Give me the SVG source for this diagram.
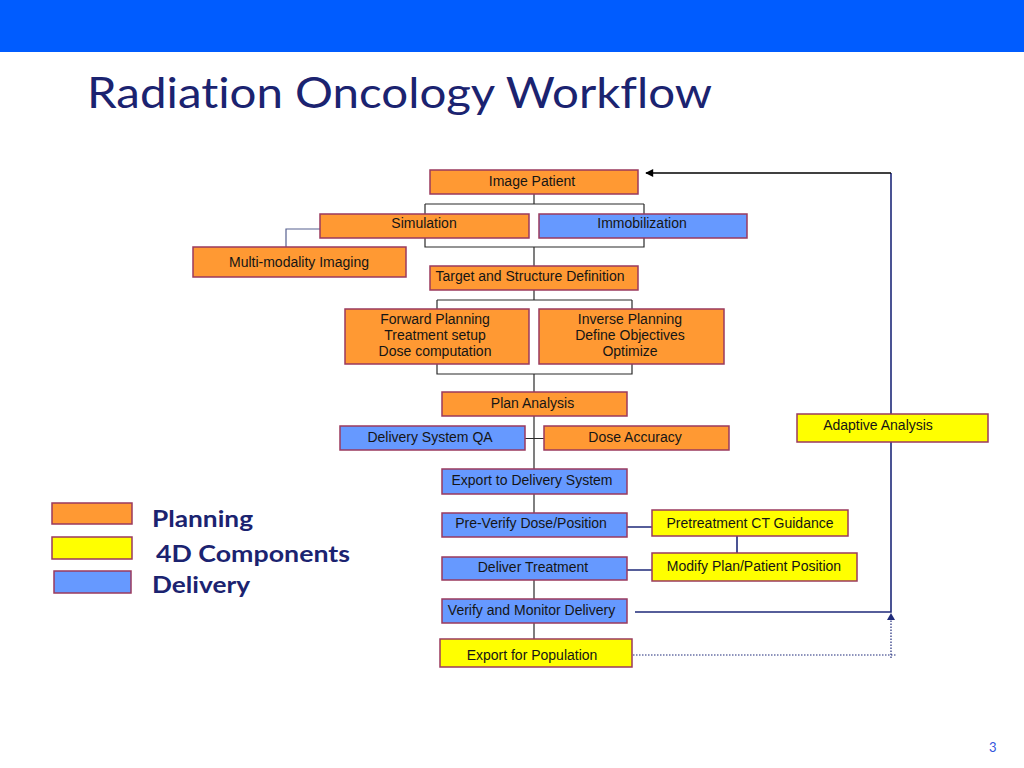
<svg xmlns="http://www.w3.org/2000/svg" width="1024" height="768" viewBox="0 0 1024 768">
<defs>
<style>
.box{stroke:#9a3a5e;stroke-width:1.5}
.org{fill:#ff9933}
.blu{fill:#6699ff}
.yel{fill:#ffff00}
.t{font-family:"Liberation Sans",Arial,sans-serif;font-size:14px;fill:#151515;text-anchor:middle}
.tree{fill:none;stroke:#2a2a2a;stroke-width:1.2}
.navy{fill:none;stroke:#1f2a7a;stroke-width:1.6}
.leg{font-family:Lato,"Open Sans",sans-serif;font-weight:bold;font-size:23px;fill:#1b2370}
.ttl{font-family:Lato,"Open Sans",sans-serif;font-size:42px;fill:#1b2370;font-variant-ligatures:none}
</style>
<marker id="ah" viewBox="0 0 10 10" refX="9" refY="5" markerWidth="9" markerHeight="8" markerUnits="userSpaceOnUse" orient="auto">
<path d="M0,0 L10,5 L0,10 z" fill="#000"/>
</marker>
</defs>
<rect x="0" y="0" width="1024" height="52" fill="#005cff"/>
<text class="ttl" x="87" y="108" textLength="625" lengthAdjust="spacingAndGlyphs">Radiation Oncology Workflow</text>

<g id="connectors">
<path class="tree" d="M534,194 V204 M425,204 H644 M425,204 V214 M644,204 V214"/>
<path class="tree" d="M425,238 V247 H644 V238 M534,247 V266"/>
<path fill="none" stroke="#56608f" stroke-width="1.2" d="M320,229 H286 V247"/>
<path class="tree" d="M534,290 V300 M437,300 H632 M437,300 V309 M632,300 V309"/>
<path class="tree" d="M437,364 V374 H632 V364 M534,374 V392"/>
<path class="tree" d="M534,416 V469 M525,438.5 H544"/>
<path class="tree" d="M534,494 V513"/>
<path class="tree" d="M534,580 V599 M534,623 V639"/>
<path class="navy" d="M627,527 H652 M627,570 H652 M737,536 V553"/>
<path class="navy" d="M635,612 H891 V173"/>
<path fill="none" stroke="#000" stroke-width="1.5" d="M891,173 H646" marker-end="url(#ah)"/>
<path fill="none" stroke="#1f2a7a" stroke-width="1.2" stroke-dasharray="1.5,1.5" d="M633,655 H897 M891,658 V620"/>
<path d="M891,613 L887,620 L895,620 z" fill="#1f2a7a"/>
</g>

<g id="image-patient"><rect class="box org" x="430" y="170" width="208" height="24"/><text class="t" x="532" y="186">Image Patient</text></g>
<g id="simulation"><rect class="box org" x="320" y="214" width="209" height="24"/><text class="t" x="424" y="228">Simulation</text></g>
<g id="immobilization"><rect class="box blu" x="539" y="214" width="208" height="24"/><text class="t" x="642" y="228">Immobilization</text></g>
<g id="multi-modality"><rect class="box org" x="193" y="247" width="213" height="30"/><text class="t" x="299" y="267">Multi-modality Imaging</text></g>
<g id="target"><rect class="box org" x="430" y="266" width="208" height="24"/><text class="t" x="530" y="281">Target and Structure Definition</text></g>
<g id="forward-planning"><rect class="box org" x="345" y="309" width="184" height="55"/>
<text class="t" x="435" y="324">Forward Planning</text><text class="t" x="435" y="340">Treatment setup</text><text class="t" x="435" y="355.5">Dose computation</text></g>
<g id="inverse-planning"><rect class="box org" x="539" y="309" width="185" height="55"/>
<text class="t" x="630" y="324">Inverse Planning</text><text class="t" x="630" y="340">Define Objectives</text><text class="t" x="630" y="355.5">Optimize</text></g>
<g id="plan-analysis"><rect class="box org" x="442" y="392" width="185" height="24"/><text class="t" x="532.5" y="407.5">Plan Analysis</text></g>
<g id="delivery-qa"><rect class="box blu" x="340" y="426" width="185" height="24"/><text class="t" x="430" y="442">Delivery System QA</text></g>
<g id="dose-accuracy"><rect class="box org" x="544" y="426" width="185" height="24"/><text class="t" x="635" y="442">Dose Accuracy</text></g>
<g id="adaptive-analysis"><rect class="box yel" x="797" y="414" width="191" height="28"/><text class="t" x="878" y="430">Adaptive Analysis</text></g>
<g id="export-delivery"><rect class="box blu" x="442" y="469" width="185" height="25"/><text class="t" x="532" y="485">Export to Delivery System</text></g>
<g id="pre-verify"><rect class="box blu" x="442" y="513" width="185" height="24"/><text class="t" x="531" y="528">Pre-Verify Dose/Position</text></g>
<g id="pretreatment-ct"><rect class="box yel" x="652" y="510" width="196" height="26"/><text class="t" x="750" y="528">Pretreatment CT Guidance</text></g>
<g id="deliver-treatment"><rect class="box blu" x="442" y="557" width="185" height="23"/><text class="t" x="533" y="572">Deliver Treatment</text></g>
<g id="modify-plan"><rect class="box yel" x="652" y="553" width="205" height="28"/><text class="t" x="754" y="571">Modify Plan/Patient Position</text></g>
<g id="verify-monitor"><rect class="box blu" x="442" y="599" width="185" height="24"/><text class="t" x="531.5" y="615">Verify and Monitor Delivery</text></g>
<g id="export-population"><rect class="box yel" x="440" y="639" width="192" height="28"/><text class="t" x="532" y="660">Export for Population</text></g>

<g id="legend">
<rect class="box org" x="52" y="503" width="80" height="21"/>
<rect class="box yel" x="52" y="537" width="80" height="22"/>
<rect class="box blu" x="54" y="571" width="77" height="22"/>
<text class="leg" x="152" y="527" textLength="101" lengthAdjust="spacingAndGlyphs">Planning</text>
<text class="leg" x="156" y="562" textLength="194" lengthAdjust="spacingAndGlyphs">4D Components</text>
<text class="leg" x="152" y="593" textLength="98" lengthAdjust="spacingAndGlyphs">Delivery</text>
</g>
<text x="989" y="752" font-family="Lato,'Open Sans',sans-serif" font-size="13" fill="#3355dd">3</text>
</svg>
